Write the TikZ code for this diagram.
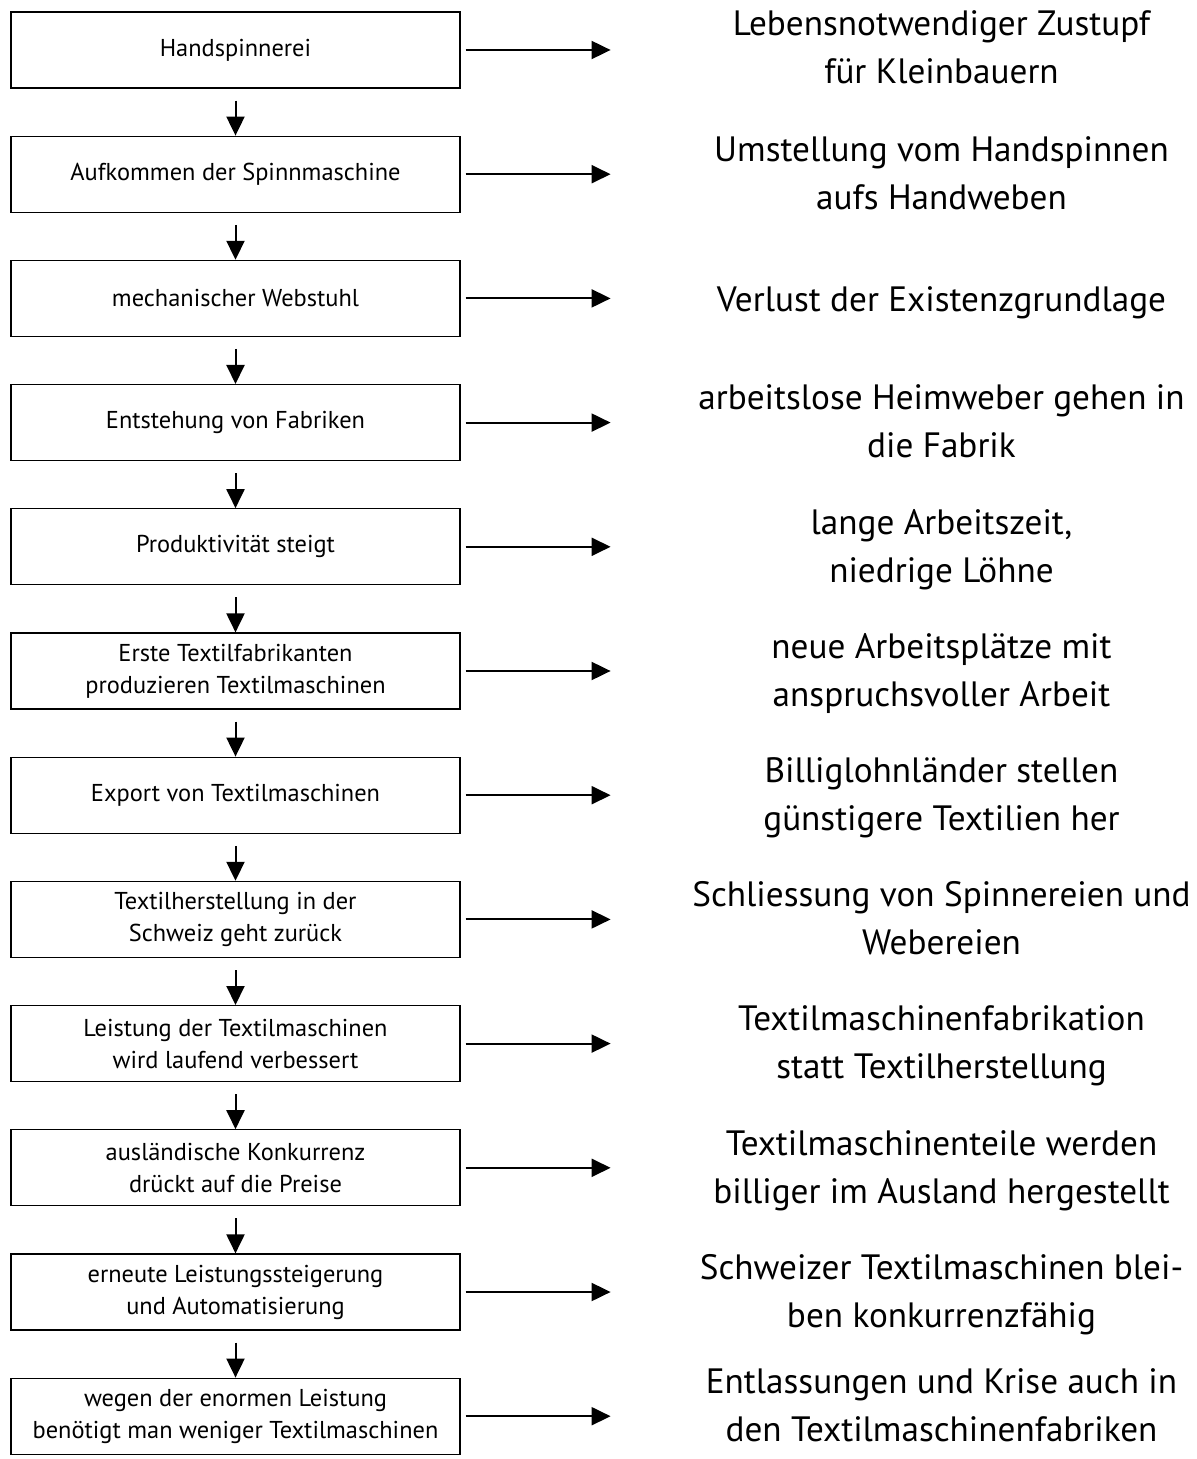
\documentclass[tikz,border=0pt]{standalone}
\usepackage{fontspec}
\setmainfont{PT Sans}
\usetikzlibrary{positioning,arrows.meta}

\begin{document}
\begin{tikzpicture}
		[stage/.style={rectangle,draw=black,line width=0.6pt,minimum width=224.5pt,minimum height=38pt,
			inner sep=0pt,align=center,font=\fontsize{12.2}{16}\selectfont},
		effect/.style={align=center,inner sep=0pt,font=\fontsize{17.6}{24}\selectfont,
			execute at begin node=\strut,execute at end node=\strut,yshift=-3pt},
		arr/.style={line width=1pt,-{Triangle[length=9.5pt,width=9pt]}},
		node distance=23.5pt]
		\useasboundingbox (-117.75pt,25pt) rectangle (480.25pt,-704.5pt);

		\node [stage] (b1) at (0,0) {Handspinnerei};
		\node [stage] (b2) [below=of b1] {Aufkommen der Spinnmaschine};
		\node [stage] (b3) [below=of b2] {mechanischer Webstuhl};
		\node [stage] (b4) [below=of b3] {Entstehung von Fabriken};
		\node [stage] (b5) [below=of b4] {Produktivität steigt};
		\node [stage] (b6) [below=of b5] {Erste Textilfabrikanten\\produzieren Textilmaschinen};
		\node [stage] (b7) [below=of b6] {Export von Textilmaschinen};
		\node [stage] (b8) [below=of b7] {Textilherstellung in der\\Schweiz geht zurück};
		\node [stage] (b9) [below=of b8] {Leistung der Textilmaschinen\\wird laufend verbessert};
		\node [stage] (b10) [below=of b9] {ausländische Konkurrenz\\drückt auf die Preise};
		\node [stage] (b11) [below=of b10] {erneute Leistungssteigerung\\und Automatisierung};
		\node [stage] (b12) [below=of b11] {wegen der enormen Leistung\\benötigt man weniger Textilmaschinen};

		\node [effect,yshift=1pt] (e1) at ([xshift=353pt]b1.center) {Lebensnotwendiger Zustupf\\für Kleinbauern};
		\node [effect] (e2) at ([xshift=353pt]b2.center) {Umstellung vom Handspinnen\\aufs Handweben};
		\node [effect,yshift=1pt] (e3) at ([xshift=353pt]b3.center) {Verlust der Existenzgrundlage};
		\node [effect] (e4) at ([xshift=353pt]b4.center) {arbeitslose Heimweber gehen in\\die Fabrik};
		\node [effect] (e5) at ([xshift=353pt]b5.center) {lange Arbeitszeit,\\niedrige Löhne};
		\node [effect] (e6) at ([xshift=353pt]b6.center) {neue Arbeitsplätze mit\\anspruchsvoller Arbeit};
		\node [effect] (e7) at ([xshift=353pt]b7.center) {Billiglohnländer stellen\\günstigere Textilien her};
		\node [effect] (e8) at ([xshift=353pt]b8.center) {Schliessung von Spinnereien und\\Webereien};
		\node [effect] (e9) at ([xshift=353pt]b9.center) {Textilmaschinenfabrikation\\statt Textilherstellung};
		\node [effect] (e10) at ([xshift=353pt]b10.center) {Textilmaschinenteile werden\\billiger im Ausland hergestellt};
		\node [effect] (e11) at ([xshift=353pt]b11.center) {Schweizer Textilmaschinen blei-\\ben konkurrenzfähig};
		\node [effect,yshift=5pt] (e12) at ([xshift=353pt]b12.center) {Entlassungen und Krise auch in\\den Textilmaschinenfabriken};

		% arrows to the consequences
		\foreach \i in {1,...,12}{
			\coordinate [right=75pt of b\i.east] (t\i);
			\draw [arr] ([xshift=2.5pt]b\i.east) -- (t\i);
		}
		% arrows down the chain
		\foreach \i [evaluate=\i as \j using int(\i+1)] in {1,...,11}
			\draw [arr] ([yshift=-6pt]b\i.south) -- (b\j.north);

	\end{tikzpicture}
\end{document}
